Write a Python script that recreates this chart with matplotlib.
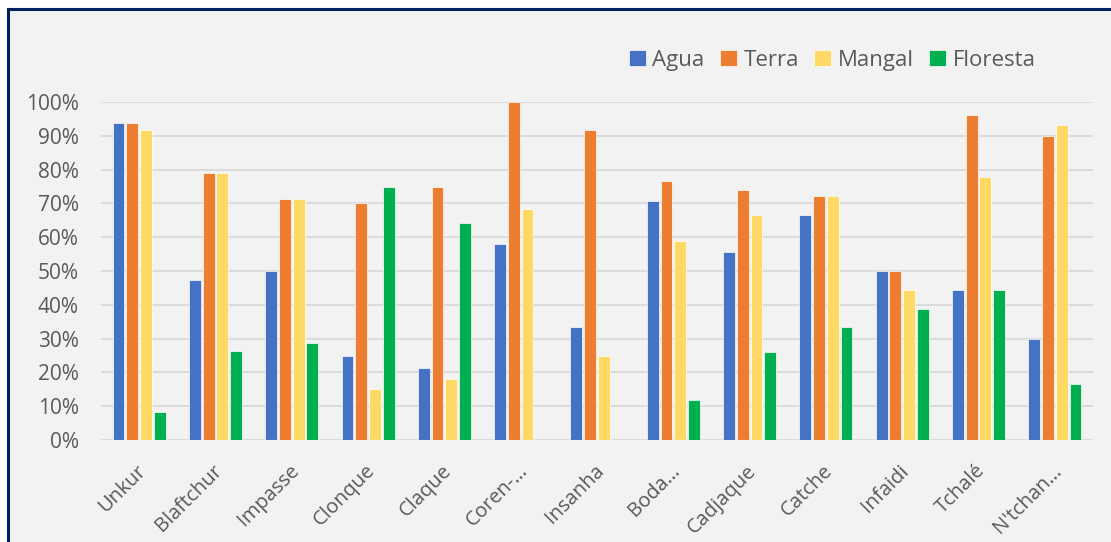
import matplotlib
matplotlib.use("Agg")
import matplotlib.pyplot as plt
import numpy as np
from matplotlib.patches import Rectangle
from matplotlib.ticker import PercentFormatter
from matplotlib.transforms import ScaledTranslation

categories = ["Unkur", "Blaftchur", "Impasse", "Clonque", "Claque", "Coren-…",
              "Insanha", "Boda…", "Cadjaque", "Catche", "Infaidi", "Tchalé", "N'tchan…"]
agua     = [93.75, 47.4, 50.0, 25.0, 21.4, 57.9, 33.3, 70.6, 55.6, 66.7, 50.0, 44.4, 30.0]
terra    = [93.75, 78.9, 71.4, 70.0, 75.0, 100.0, 91.7, 76.5, 74.1, 72.2, 50.0, 96.3, 90.0]
mangal   = [91.7, 78.9, 71.4, 15.0, 17.9, 68.4, 25.0, 58.8, 66.7, 72.2, 44.4, 77.8, 93.3]
floresta = [8.3, 26.3, 28.6, 75.0, 64.3, 0.0, 0.0, 11.8, 25.9, 33.3, 38.9, 44.4, 16.7]
series_names = ["Agua", "Terra", "Mangal", "Floresta"]
colors = ["#4472C4", "#ED7D31", "#FFD966", "#00B050"]

plt.rcParams['font.family'] = ['Open Sans', 'DejaVu Sans']
W, H = 1111, 542
fig = plt.figure(figsize=(W / 100, H / 100), dpi=100, facecolor="white")

# chart area box
fig.patches.append(Rectangle((7.5 / W, -0.05), 1.2, (H - 8.5) / H + 0.05,
                             transform=fig.transFigure, facecolor="#F2F2F2",
                             edgecolor="#002060", linewidth=2.2, zorder=-5))

ax = fig.add_axes([101 / W, (H - 440) / H, (1093 - 101) / W, (440 - 102) / H])
ax.set_facecolor("none")

x = np.arange(len(categories))
step = 0.18
width = 0.155
data = [agua, terra, mangal, floresta]
for i, (name, vals, c) in enumerate(zip(series_names, data, colors)):
    ax.bar(x + (i - 1.5) * step, np.array(vals) / 100.0, width=width, color=c,
           edgecolor="white", linewidth=0.5, label=name, zorder=3)

ax.set_xlim(-0.5, len(categories) - 0.5)
ax.set_ylim(0, 1.0)
ax.set_yticks(np.arange(0, 1.01, 0.1))
ax.yaxis.set_major_formatter(PercentFormatter(1.0, decimals=0))
ax.grid(axis="y", color="#D9D9D9", linewidth=1.3, zorder=0)
ax.set_axisbelow(True)
for s in ax.spines.values():
    s.set_visible(False)
ax.tick_params(axis="y", length=0, pad=16, labelsize=15, labelcolor="#595959")
ax.tick_params(axis="x", length=0, pad=15, labelsize=14.5, labelcolor="#595959")
ax.set_xticks(x)
ax.set_xticklabels(categories, rotation=45, ha="right", va="top", rotation_mode="anchor")
shift = ScaledTranslation(-3 / 100, 0, fig.dpi_scale_trans)
for lbl in ax.get_xticklabels():
    lbl.set_transform(lbl.get_transform() + shift)

leg = fig.legend(loc="center left", bbox_to_anchor=(620 / W, (H - 60) / H), ncol=4,
                 frameon=False, fontsize=16, labelcolor="#595959",
                 handlelength=0.75, handleheight=0.75, handletextpad=0.3,
                 columnspacing=0.7, borderaxespad=0)

fig.savefig("out.png", dpi=100, facecolor="white")
